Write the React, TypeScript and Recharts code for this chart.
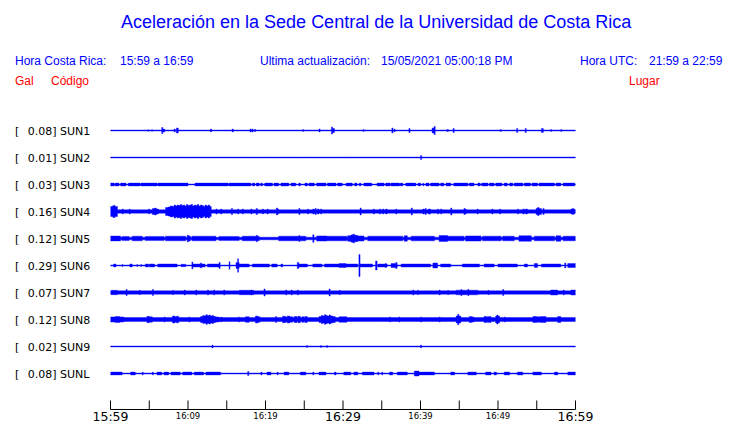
import { ComposedChart, Area, XAxis, YAxis } from 'recharts';

type Seg = [number, number, number]; // [start min, end min, half amplitude]

const stations = ['SUN1', 'SUN2', 'SUN3', 'SUN4', 'SUN5', 'SUN6', 'SUN7', 'SUN8', 'SUN9', 'SUNL'];
const peakGal = ['0.08', '0.01', '0.03', '0.16', '0.12', '0.29', '0.07', '0.12', '0.02', '0.08'];
const places = [
  'CIMAR', 'Ingenieria P01', 'Ingenieria P06', 'EBCI', 'Rectoria',
  'Agroalimentarias', 'Archivo', 'Electrica P06', 'Electrica P01', 'LANAMME-CTT',
];
const baseAmp = [0.5, 0.5, 0.5, 1.7, 1.3, 0.5, 1.7, 2, 0.5, 0.5];

const sun1: Seg[] = [
  [4.8, 4.95, 0.8], [5.3, 5.45, 0.8], [6.6, 6.75, 3], [6.75, 7.0, 1.5], [8.2, 8.35, 1.5],
  [8.5, 8.75, 2.5], [12.9, 13.05, 1.5], [15.7, 15.85, 1.5], [18.0, 18.15, 1.5], [18.25, 18.4, 1.5],
  [18.6, 18.72, 1.2], [24.8, 24.92, 1], [26.9, 27.05, 1.5], [28.5, 28.65, 3.5], [28.65, 28.9, 2],
  [32.6, 32.72, 1], [36.3, 36.45, 2.5], [36.6, 36.72, 1.5], [38.5, 38.65, 2], [41.5, 41.75, 2.5],
  [41.75, 41.9, 4], [43.4, 43.6, 1], [44.2, 44.35, 2], [50.3, 50.42, 1], [52.4, 52.55, 2],
  [53.5, 53.65, 2], [55.6, 55.85, 2], [56.8, 56.92, 1], [58.1, 58.22, 1],
];
const sun2: Seg[] = [[40.0, 40.15, 2]];
const sun3: Seg[] = [
  [0, 0.5, 1.4], [0.6, 1.1, 1.4], [1.3, 2.0, 1.4], [2.3, 3.8, 1.4], [3.9, 6.0, 1.4], [6.1, 10.0, 1.4],
  [10.9, 15.2, 1.4], [15.3, 18.1, 1.4], [18.3, 18.6, 1.4], [18.8, 19.2, 1.4], [19.4, 19.6, 1.4],
  [19.9, 20.9, 1.4], [21.1, 21.7, 1.4], [22.0, 23.0, 1.4], [23.3, 23.9, 1.4], [24.3, 24.5, 1.4],
  [25.1, 25.4, 1.4], [25.6, 26.3, 1.4], [26.6, 27.8, 1.4], [28.0, 29.1, 1.4], [29.3, 29.9, 1.4],
  [30.4, 31.2, 1.4], [31.5, 31.8, 1.4], [32.1, 32.3, 1.4], [32.7, 33.7, 1.4], [34.4, 35.3, 1.4],
  [35.5, 36.1, 1.4], [36.2, 37.3, 1.4], [37.4, 37.7, 1.4], [38.1, 39.4, 1.4], [39.7, 40.0, 1.4],
  [40.3, 40.4, 1.4], [40.7, 41.1, 1.4], [41.3, 42.4, 1.4], [42.6, 43.0, 1.4], [43.3, 43.9, 1.4],
  [44.3, 46.1, 1.4], [46.3, 46.9, 1.4], [47.4, 47.7, 1.4], [47.9, 48.7, 1.4], [48.9, 49.5, 1.4],
  [49.7, 50.5, 1.4], [50.8, 51.2, 1.4], [51.5, 51.9, 1.4], [52.1, 53.2, 1.4], [53.4, 54.2, 1.4],
  [54.4, 55.1, 1.4], [55.3, 57.3, 1.4], [57.5, 58.1, 1.4], [58.4, 59.9, 1.4],
];
const sun4: Seg[] = [
  [0, 0.3, 5], [0.3, 0.6, 6], [0.6, 0.9, 5], [1.5, 1.65, 2.5], [2.4, 2.55, 2.5], [4.9, 5.05, 2.5],
  [5.4, 5.7, 3], [5.7, 5.9, 3.5], [5.9, 6.2, 2.5],
  [7.1, 7.4, 4], [7.4, 7.7, 4.5], [7.7, 8.0, 5.5], [8.0, 8.2, 5], [8.2, 8.4, 6.5], [8.4, 8.6, 5.5],
  [8.6, 8.8, 6.5], [8.8, 9.0, 6], [9.0, 9.2, 7], [9.2, 9.4, 6], [9.4, 9.6, 6.5], [9.6, 9.8, 5.5],
  [9.8, 10.0, 7], [10.0, 10.2, 6], [10.2, 10.4, 6.5], [10.4, 10.6, 7], [10.6, 10.8, 5.5],
  [10.8, 11.0, 6.5], [11.0, 11.2, 6], [11.2, 11.4, 7], [11.4, 11.6, 5.5], [11.6, 11.8, 6.5],
  [11.8, 12.0, 6], [12.0, 12.2, 5], [12.2, 12.4, 6.5], [12.4, 12.6, 5.5], [12.6, 12.8, 6.5],
  [12.8, 13.0, 5],
  [13.6, 13.75, 2.5], [14.2, 14.35, 2.5], [15.6, 15.75, 3], [16.4, 16.55, 2.5], [17.0, 17.15, 2.5],
  [18.1, 18.25, 2.5], [18.8, 18.95, 3], [19.6, 19.75, 2.5], [20.2, 20.35, 2.5], [21.4, 21.55, 3.5],
  [21.55, 21.7, 2.5], [24.3, 24.45, 3], [25.4, 25.55, 2.5], [26.1, 26.3, 2.5], [26.4, 26.55, 3],
  [26.7, 26.9, 2.5], [27.1, 27.25, 2.5], [32.2, 32.35, 3.5], [33.9, 34.05, 2.5], [34.7, 34.85, 2.5],
  [35.1, 35.25, 2.5], [35.5, 35.7, 2.5], [36.8, 36.95, 2.5], [38.8, 38.95, 3.5], [40.3, 40.5, 2.5],
  [40.6, 40.75, 3], [41.0, 41.3, 2.5], [42.2, 42.35, 2.5], [42.6, 42.75, 2.5], [43.9, 44.05, 3.5],
  [45.6, 45.75, 3], [45.75, 45.9, 2.5], [47.3, 47.45, 2.5], [49.2, 49.35, 2.5], [50.2, 50.35, 2.5],
  [52.5, 52.65, 2.5], [53.2, 53.4, 2.5], [53.55, 53.8, 2.5], [54.9, 55.1, 3], [55.1, 55.3, 4],
  [55.3, 55.6, 3], [55.8, 55.95, 3], [59.4, 59.6, 2.5], [59.6, 59.75, 3], [59.75, 59.9, 2.5],
];
const sun5: Seg[] = [
  [0, 1.3, 2.4], [1.5, 2.4, 2.1], [2.8, 4.1, 2.3], [4.5, 6.9, 2.1], [7.1, 9.7, 2.3], [9.9, 10.1, 3.2],
  [10.1, 10.3, 2.5], [10.5, 13.6, 2.3], [14.0, 16.6, 2.1], [17.0, 19.2, 2.3], [18.8, 18.95, 3.2],
  [21.7, 25.2, 2.3], [24.3, 24.45, 3], [26.1, 26.25, 3.8], [26.6, 27.9, 2.6], [27.9, 30.5, 2.3],
  [30.6, 31.0, 2.8], [31.0, 31.25, 3.6], [31.25, 31.5, 4.2], [31.5, 31.9, 3.2], [31.9, 32.7, 2.6],
  [33.2, 37.7, 2.3], [37.9, 38.3, 2.8], [38.8, 41.8, 2.3], [42.4, 43.5, 3], [43.5, 45.6, 2.3],
  [45.8, 47.8, 2.6], [48.0, 50.4, 2.3], [50.6, 52.1, 2.3], [52.7, 54.3, 2.8], [54.7, 57.3, 2.3],
  [57.5, 58.1, 2.8], [58.4, 60, 2.3],
];
const sun6: Seg[] = [
  [0.4, 0.7, 1.5], [1.5, 1.62, 1], [2.5, 2.8, 1.5], [3.4, 3.52, 1], [3.9, 4.02, 1], [4.5, 4.9, 1.5],
  [5.0, 5.7, 1.5], [6.1, 8.6, 1.5], [9.1, 9.7, 1.2], [10.5, 10.62, 3.5], [10.62, 12.2, 1.5],
  [11.6, 11.75, 2.5], [12.5, 14.0, 1.5], [14.0, 14.15, 3], [15.3, 15.42, 3.7], [16.2, 16.6, 3],
  [16.4, 16.52, 6.7], [16.6, 17.9, 1.5], [18.3, 20.5, 1.5], [20.8, 21.5, 1.5], [22.0, 22.2, 1.5],
  [24.1, 24.3, 3], [24.3, 25.4, 1.5], [26.1, 27.3, 1.5], [27.6, 29.5, 1.5], [29.5, 30.4, 2],
  [30.4, 31.9, 1.5], [32.05, 32.2, 11], [32.2, 33.8, 1.5], [34.2, 34.4, 4.5], [34.5, 35.7, 1.5],
  [35.45, 35.6, 2], [36.2, 37.0, 2], [36.8, 36.95, 3], [37.5, 41.3, 1.5], [41.6, 42.2, 2.5],
  [42.6, 43.9, 1.5], [45.4, 47.6, 1.5], [48.2, 49.5, 1.5], [50.0, 52.5, 1.5], [53.4, 53.8, 1.5],
  [54.7, 55.1, 2], [55.6, 58.1, 1.5], [58.6, 58.75, 2.5], [59.0, 60, 2],
];
const sun7: Seg[] = [
  [0.1, 0.9, 2.2], [2.0, 2.15, 3], [3.7, 3.85, 2.2], [5.4, 5.55, 3], [8.0, 8.15, 2.2], [9.5, 9.65, 2.5],
  [11.0, 11.15, 2.5], [12.5, 12.65, 2.5], [13.3, 13.45, 2.5], [14.6, 14.75, 2.5], [16.6, 18.5, 2.2],
  [18.1, 18.25, 2.5], [19.8, 19.95, 3.5], [22.6, 22.75, 2.5], [23.3, 23.45, 2.5], [24.1, 24.25, 2.5],
  [28.2, 28.35, 3.5], [29.5, 29.65, 2.2], [39.0, 39.15, 2.5], [39.6, 39.75, 2.2], [42.4, 42.55, 2.5],
  [43.5, 43.65, 2.2], [44.6, 47.4, 2.3], [45.2, 45.35, 3], [46.1, 46.25, 3], [48.7, 48.85, 2.2],
  [50.6, 50.75, 3], [56.8, 57.7, 2.5], [58.4, 58.55, 2.5], [59.4, 60, 2.5],
];
const sun8: Seg[] = [
  [0, 0.6, 2.6], [0.6, 1.2, 3], [1.2, 1.7, 2.6], [4.7, 5.0, 3.2], [5.0, 5.4, 2.7], [6.9, 7.05, 2.5],
  [8.0, 8.3, 3.5], [8.3, 8.5, 2.8], [8.5, 8.8, 3.3], [10.1, 10.25, 2.5],
  [11.6, 11.9, 3], [11.9, 12.1, 4], [12.1, 12.3, 3.5], [12.3, 12.5, 4.8], [12.5, 12.7, 4],
  [12.7, 12.9, 4.5], [12.9, 13.1, 3.5], [13.1, 13.3, 4], [13.3, 13.6, 3], [13.6, 14.0, 2.5],
  [14.2, 14.35, 2.5], [16.5, 16.65, 2.5], [17.4, 17.9, 2.8], [18.7, 19.0, 3.5], [19.0, 19.3, 2.8],
  [21.3, 21.45, 3], [22.2, 22.6, 3.2], [22.6, 22.8, 2.6], [22.8, 23.1, 3.5], [23.1, 23.5, 2.8],
  [23.7, 24.1, 3], [24.2, 24.5, 3.2], [24.7, 25.0, 2.8], [25.1, 25.4, 3],
  [26.9, 27.2, 3], [27.2, 27.4, 4], [27.4, 27.6, 3.5], [27.6, 27.8, 4.8], [27.8, 28.0, 4],
  [28.0, 28.2, 3.5], [28.2, 28.4, 4.5], [28.4, 28.7, 3.5], [28.7, 29.0, 3], [29.5, 30.5, 2.8],
  [36.0, 36.15, 2.5], [37.2, 37.35, 2.5], [40.0, 40.15, 2.5], [42.4, 42.55, 2.5],
  [44.6, 44.8, 3.5], [44.8, 44.95, 5.3], [44.95, 45.2, 3.5], [46.3, 46.6, 3], [46.6, 46.9, 2.6],
  [48.2, 48.5, 3], [48.5, 48.8, 2.7], [48.8, 49.1, 3], [49.7, 49.85, 3.5], [49.85, 50.0, 4.5],
  [50.0, 50.2, 3.5], [50.8, 50.95, 2.5], [54.5, 55.0, 3], [55.0, 55.5, 2.7], [55.5, 56.2, 3],
  [57.7, 58.1, 3],
];
const sun9: Seg[] = [
  [13.1, 13.22, 1.5], [25.3, 25.42, 1], [27.1, 27.22, 1], [27.9, 28.02, 1], [40.0, 40.12, 1.5],
];
const sunl: Seg[] = [
  [0, 1.5, 1.4], [2.6, 3.2, 1.4], [4.1, 4.22, 1.4], [5.4, 5.52, 1.4], [6.0, 6.6, 1.4], [6.9, 7.5, 1.4],
  [7.8, 9.0, 1.4], [9.3, 10.5, 1.4], [10.8, 12.0, 1.4], [12.3, 14.2, 1.4], [17.7, 17.85, 2],
  [19.4, 19.55, 1.4], [20.2, 20.7, 1.4], [21.5, 21.62, 1.4], [22.4, 23.0, 1.4], [24.5, 25.2, 1.4],
  [26.1, 26.22, 1.4], [26.9, 27.8, 1.4], [28.9, 29.1, 1.4], [30.1, 31.0, 1.4], [31.4, 31.9, 1.4],
  [32.5, 34.0, 1.4], [34.5, 34.62, 1.4], [35.0, 35.12, 1.4], [36.0, 36.4, 1.4], [37.0, 38.3, 1.4],
  [39.2, 39.8, 2.5], [39.8, 41.8, 1.4], [43.9, 44.4, 1.4], [46.1, 47.2, 1.4], [48.4, 49.1, 1.4],
  [49.5, 49.8, 1.4], [50.8, 51.5, 1.4], [52.5, 53.2, 1.4], [54.5, 55.6, 1.4], [57.3, 57.7, 1.4],
  [59.0, 60, 1.4],
];
const traces = [sun1, sun2, sun3, sun4, sun5, sun6, sun7, sun8, sun9, sunl];

const tickMinutes = [0, 5, 10, 15, 20, 25, 30, 35, 40, 45, 50, 55, 60];
const tickLabels = ['15:59', '', '16:09', '', '16:19', '', '16:29', '', '16:39', '', '16:49', '', '16:59'];
const bigLabels = ['15:59', '16:29', '16:59'];

// layout: 1 y-unit = 1px, one row per station
const ROW = 27;
const Y_MAX = 292.5;
const centers = stations.map((_, i) => ROW / 2 + ROW * i);

const cuts = Array.from(
  new Set([0, 60, ...traces.flatMap((segs) => segs.flatMap(([a, b]) => [a, b]))]),
).sort((a, b) => a - b);

const table = cuts.map((t, k) => {
  const next = k + 1 < cuts.length ? cuts[k + 1] : t;
  const row: Record<string, number | number[]> = { t };
  traces.forEach((segs, i) => {
    let h = baseAmp[i];
    for (const [a, b, amp] of segs) {
      if (a <= t && b >= next && amp > h) h = amp;
    }
    row['s' + i] = [centers[i] - h, centers[i] + h];
  });
  return row;
});

const BLUE = '#0000ff';
const LABEL_FONT = '"DejaVu Sans", sans-serif';
const HEAD_FONT = '"Liberation Sans", Arial, sans-serif';

function TimeTick(props: any) {
  const { x, y, payload } = props;
  const label = tickLabels[tickMinutes.indexOf(payload.value)] ?? '';
  const big = bigLabels.includes(label);
  return (
    <g>
      <line x1={x} y1={y - 9} x2={x} y2={y} stroke="#000" strokeWidth={1} />
      {label && (
        <text
          x={x}
          y={y + (big ? 11 : 9)}
          textAnchor="middle"
          fontFamily={LABEL_FONT}
          fontSize={big ? 12.5 : 8.5}
          fill="#000"
        >
          {label}
        </text>
      )}
    </g>
  );
}

function StationTick(props: any) {
  const { y, payload } = props;
  const i = centers.indexOf(payload.value);
  if (i < 0) return null;
  return (
    <text y={y + 4} fontFamily={LABEL_FONT} fontSize={11} fill="#000">
      <tspan x={15}>[</tspan>
      <tspan x={27.7}>{peakGal[i]}] {stations[i]}</tspan>
    </text>
  );
}

function PlaceTick(props: any) {
  const { y, payload } = props;
  const i = centers.indexOf(payload.value);
  if (i < 0) return null;
  return (
    <text x={587} y={y + 4} fontFamily={LABEL_FONT} fontSize={11} fill="#000">
      {places[i]}
    </text>
  );
}

export default function App() {
  return (
    <div style={{ position: 'absolute', left: 0, top: 0, width: 740, height: 423, background: '#fff' }}>
      <svg width={740} height={423} style={{ position: 'absolute', left: 0, top: 0 }}>
        <g fontFamily={HEAD_FONT}>
          <text x={121} y={28} fontSize={18} fill={BLUE}>
            Aceleración en la Sede Central de la Universidad de Costa Rica
          </text>
          <text x={15} y={64.5} fontSize={12} fill={BLUE}>Hora Costa Rica:</text>
          <text x={120} y={64.5} fontSize={12} fill={BLUE}>15:59 a 16:59</text>
          <text x={260} y={64.5} fontSize={12} fill={BLUE}>Ultima actualización:</text>
          <text x={381} y={64.5} fontSize={12} fill={BLUE}>15/05/2021 05:00:18 PM</text>
          <text x={580} y={64.5} fontSize={12} fill={BLUE}>Hora UTC:</text>
          <text x={649} y={64.5} fontSize={12} fill={BLUE}>21:59 a 22:59</text>
          <text x={15} y={84.5} fontSize={12} fill="#ff0000">Gal</text>
          <text x={51} y={84.5} fontSize={12} fill="#ff0000">Código</text>
          <text x={629} y={84.5} fontSize={12} fill="#ff0000">Lugar</text>
        </g>
      </svg>
      <div style={{ position: 'absolute', left: 0, top: 0 }}>
        <ComposedChart
          width={740}
          height={423}
          data={table}
          margin={{ top: 117, right: 0, bottom: 0, left: 0 }}
        >
          <XAxis
            dataKey="t"
            type="number"
            domain={[0, 60]}
            ticks={tickMinutes}
            interval={0}
            height={13.5}
            tickSize={0}
            tickMargin={0}
            tickLine={false}
            axisLine={{ stroke: '#000', strokeWidth: 1 }}
            tick={<TimeTick />}
          />
          <YAxis
            yAxisId="left"
            type="number"
            domain={[0, Y_MAX]}
            reversed
            width={110.5}
            ticks={centers}
            interval={0}
            axisLine={false}
            tickLine={false}
            tick={<StationTick />}
          />
          <YAxis
            yAxisId="right"
            orientation="right"
            type="number"
            domain={[0, Y_MAX]}
            reversed
            width={164.5}
            ticks={centers}
            interval={0}
            axisLine={false}
            tickLine={false}
            tick={<PlaceTick />}
          />
          {stations.map((s, i) => (
            <Area
              key={s}
              yAxisId="left"
              type="stepAfter"
              dataKey={'s' + i}
              stroke={BLUE}
              strokeWidth={0.4}
              fill={BLUE}
              fillOpacity={1}
              dot={false}
              activeDot={false}
              isAnimationActive={false}
            />
          ))}
        </ComposedChart>
      </div>
    </div>
  );
}
